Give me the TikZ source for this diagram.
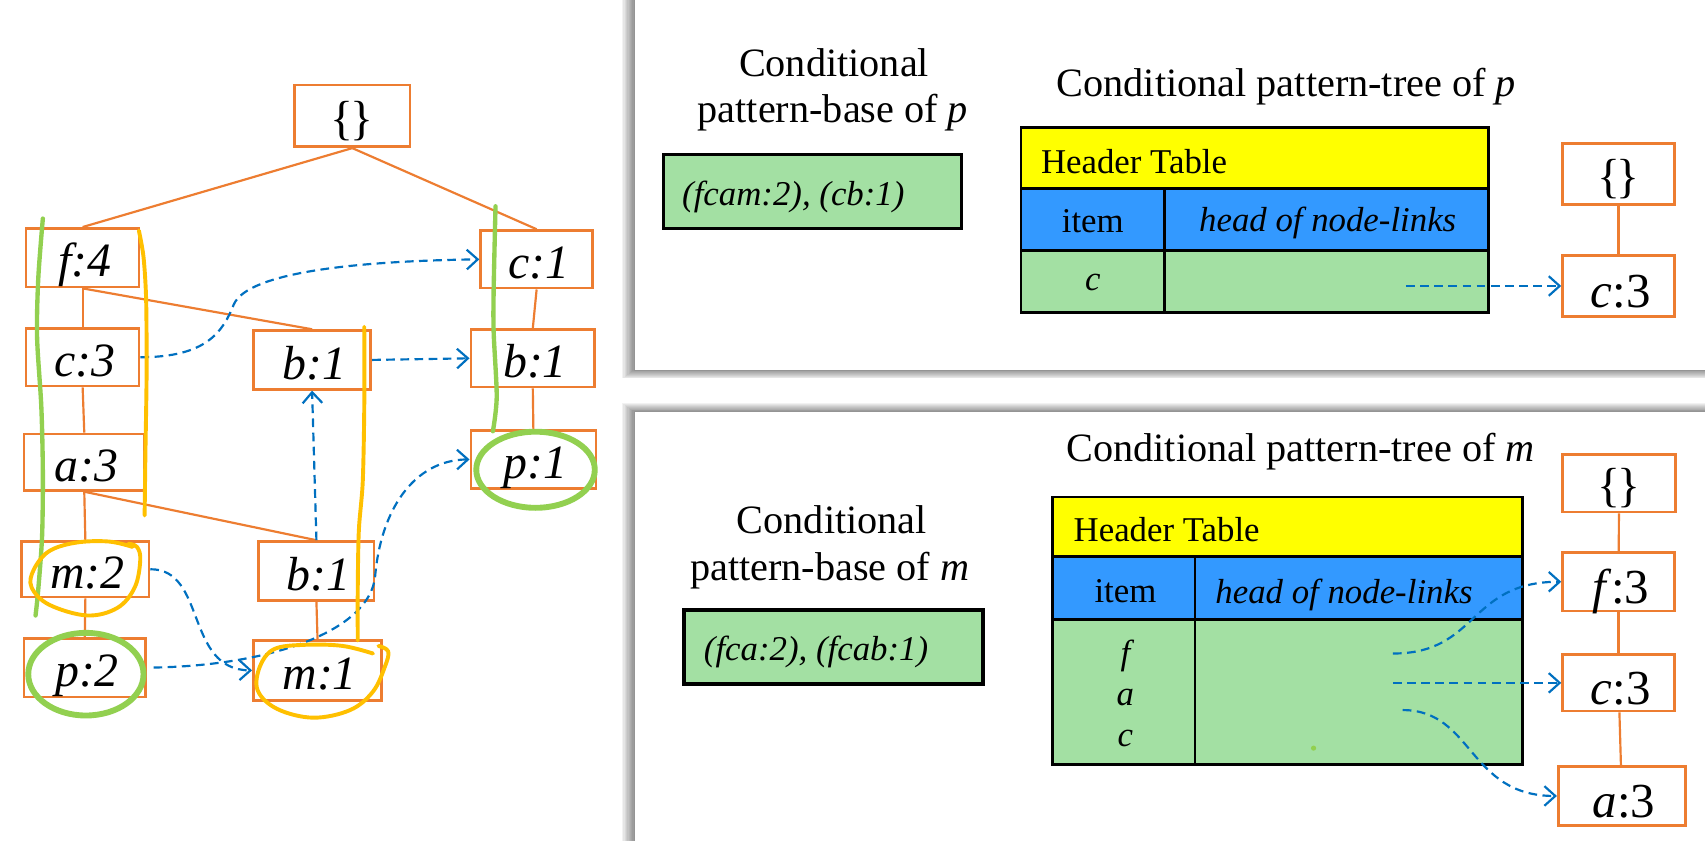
\documentclass[tikz,border=0pt]{standalone}
\usepackage{fontspec}
\setmainfont{Liberation Serif}
\usetikzlibrary{arrows.meta}
\definecolor{torange}{HTML}{ED7D31}
\definecolor{tblue}{HTML}{0070C0}
\definecolor{hgreen}{HTML}{92D050}
\definecolor{hyellow}{HTML}{FFC000}
\definecolor{cyellow}{HTML}{FFFF00}
\definecolor{cblue}{HTML}{3399FF}
\definecolor{cgreen}{HTML}{A3E0A3}
\newcommand\treelbl[1]{\hspace*{2pt}#1}
\newcommand\bracelbl{\{\kern-1.5pt\}}
\begin{document}
\begin{tikzpicture}[x=0.5pt,y=-0.5pt,
  tbox/.style={draw=torange, line width=1.2pt, fill=white, inner sep=0pt,
    text height=17.7pt, text depth=0pt,
    font=\fontsize{22}{22}\selectfont\itshape},
  sbox/.style={draw=torange, line width=1.2pt, fill=white, inner sep=0pt,
    text height=20pt, text depth=0pt, minimum width=51.5pt, minimum height=27.5pt,
    font=\fontsize{22.5}{22.5}\selectfont},
  bracefont/.style={text height=17pt, font=\fontsize{22}{22}\selectfont},
  treeline/.style={draw=torange, line width=1pt},
  nlink/.style={draw=tblue, line width=1pt, dash pattern=on 4pt off 2.5pt,
    -{Straight Barb[length=5pt,width=9pt,line width=1pt]}},
  headtxt/.style={font=\fontsize{18.5}{22}\selectfont, anchor=base, inner sep=0pt},
  ttxt/.style={font=\fontsize{16}{18}\selectfont, inner sep=0pt},
  pbox/.style={draw=black, line width=1.5pt, fill=cgreen, inner sep=0pt},
  tline/.style={draw=black, line width=1.3pt},
  hl/.style={line width=2pt, line cap=round, line join=round},
]
\useasboundingbox (0,0) rectangle (1568,772.5);
\fill[white] (0,0) rectangle (1568,772.5);

% panels with shadows
\foreach \k in {1,...,10}{
  \fill[black, opacity=0.05] (584-1.2*\k,-20) rectangle (1600,340+0.8*\k);
  \fill[black, opacity=0.05] (584-1.2*\k,379-0.8*\k) rectangle (1600,800);
}
\fill[white] (584,-20) rectangle (1600,340);
\fill[white] (584,379) rectangle (1600,800);

% ---------------- left tree ----------------
\node[tbox, bracefont, minimum width=53pt, minimum height=28.5pt] (root) at (324,106.5) {\bracelbl};
\node[tbox, minimum width=52pt, minimum height=27pt] (f4) at (76,237) {\treelbl{f:4}};
\node[tbox, minimum width=51.5pt, minimum height=26.5pt] (c1) at (493.5,238.5) {\treelbl{c:1}};
\node[tbox, minimum width=52pt, minimum height=26.5pt] (c3) at (76,328.5) {\treelbl{c:3}};
\node[tbox, minimum width=54pt, minimum height=27pt] (b1a) at (287,331) {\treelbl{b:1}};
\node[tbox, minimum width=57pt, minimum height=26.5pt] (b1b) at (490,329.5) {\treelbl{b:1}};
\node[tbox, minimum width=55.5pt, minimum height=26pt] (a3) at (77.5,425) {\treelbl{a:3}};
\node[tbox, minimum width=57.5pt, minimum height=26.5pt] (p1) at (490.5,422.5) {\treelbl{p:1}};
\node[tbox, minimum width=58.5pt, minimum height=25.5pt] (m2) at (78.5,523.5) {\treelbl{m:2}};
\node[tbox, minimum width=53pt, minimum height=27pt] (b1c) at (291,525) {\treelbl{b:1}};
\node[tbox, minimum width=56pt, minimum height=27pt] (p2) at (78,614) {\treelbl{p:2}};
\node[tbox, minimum width=59pt, minimum height=27.5pt] (m1) at (292,616.5) {\treelbl{m:1}};

\draw[treeline] (root.south) -- (f4.north);
\draw[treeline] (root.south) -- (c1.north);
\draw[treeline] (f4.south) -- (c3.north);
\draw[treeline] (f4.south) -- (b1a.north);
\draw[treeline] (c3.south) -- (a3.north);
\draw[treeline] (a3.south) -- (m2.north);
\draw[treeline] (a3.south) -- (b1c.north);
\draw[treeline] (m2.south) -- (p2.north);
\draw[treeline] (b1c.south) -- (m1.north);
\draw[treeline] (c1.south) -- (b1b.north);
\draw[treeline] (b1b.south) -- (p1.north);

\draw[nlink] (c3.east) .. controls (190,328.5) and (205,305) .. (215,280) .. controls (228,250) and (330,240) .. (c1.west);
\draw[nlink] (b1a.east) -- (b1b.west);
\draw[nlink] (b1c.north) -- (b1a.south);
\draw[nlink] (m2.east) .. controls (190,523) and (170,616) .. (m1.west);
\draw[nlink, shorten <=3pt] (p2.east) .. controls (250,612) and (340,580) .. (345,530) .. controls (350,470) and (380,423) .. (p1.west);

% highlights
\draw[hl, hgreen] plot[smooth] coordinates {(39.4,201) (35.2,256) (34.1,310) (38,374) (39.4,434) (38.7,493) (35.2,542) (32.7,566)};
\draw[hl, hyellow, line width=1.8pt] plot[smooth] coordinates {(127.7,212) (132,236.5) (134.4,276) (134.8,345) (133.7,419) (133,474)};
\draw[hl, hyellow, line width=1.8pt] plot[smooth] coordinates {(335,300.5) (335,374) (333.6,443) (330,488) (329,542) (329,589)};
\draw[hl, hgreen] plot[smooth] coordinates {(455.7,189.7) (454,266) (454,305.5) (456.8,364.6) (453.3,396.6)};
\draw[hl, hgreen, line width=2.7pt] (492.5,432) ellipse [x radius=54.5, y radius=35];
\draw[hl, hgreen, line width=2.7pt] (79,620) ellipse [x radius=53, y radius=38];
\draw[hl, hyellow, line width=1.8pt] plot[smooth, tension=0.6] coordinates {(122,503) (100,498) (70,499) (45,507) (31,524) (29,540) (45,556) (80,566) (108,559) (124,540) (129,515) (126,503) (118,500)};
\draw[hl, hyellow, line width=1.8pt] plot[smooth, tension=0.6] coordinates {(343,601) (315,594) (280,593) (252,597) (239,613) (237,635) (255,652) (288,660) (322,653) (343,636) (354,613) (357,599) (348,594)};

% ---------------- top panel ----------------
\node[headtxt] (pbt1) at (767,70) {Conditional};
\node[headtxt] (pbt2) at (766,113) {pattern-base of \textit{p}};
\node[pbox, minimum width=137pt, minimum height=34pt] (pbp) at (747,176) {};
\node[ttxt, anchor=west, font=\fontsize{16}{18}\selectfont\itshape] (pbpt) at (627,181) {(fcam:2), (cb:1)};
\node[headtxt] (ptt) at (1183,89) {Conditional pattern-tree of \textit{p}};

\fill[cyellow] (939,117) rectangle (1369,173);
\fill[cblue] (939,173) rectangle (1369,230);
\fill[cgreen] (939,230) rectangle (1369,287);
\draw[tline] (939,117) rectangle (1369,287);
\draw[tline] (939,173) -- (1369,173);
\draw[tline] (939,230) -- (1369,230);
\draw[tline] (1071,173) -- (1071,287);
\node[ttxt, anchor=west] (pht) at (957,149) {Header Table};
\node[ttxt] (pitem) at (1005,203) {item};
\node[ttxt, font=\fontsize{16}{18}\selectfont\itshape] (phead) at (1221,205) {head of node-links};
\node[ttxt, font=\fontsize{16}{18}\selectfont\itshape] (pci) at (1005,260) {c};

\node[sbox, bracefont, minimum height=28pt] (pr) at (1488.5,160) {\bracelbl};
\node[sbox, minimum height=28pt] (pc3) at (1488.5,263) {\treelbl{\textit{c}:3}};
\draw[treeline] (pr) -- (pc3);
\coordinate (pcs) at (1293,263);
\draw[nlink] (pcs) -- (pc3.west);

% ---------------- bottom panel ----------------
\node[headtxt] (mtt) at (1196,424.5) {Conditional pattern-tree of \textit{m}};
\node[headtxt] (mbt1) at (765,490.5) {Conditional};
\node[headtxt] (mbt2) at (763,533.5) {pattern-base of \textit{m}};
\node[pbox, minimum width=137.5pt, minimum height=34pt] (pbm) at (766.5,595) {};
\node[ttxt, anchor=west, font=\fontsize{16}{18}\selectfont\itshape] (pbmt) at (647,600) {(fca:2), (fcab:1)};

\fill[cyellow] (968,457) rectangle (1400,512);
\fill[cblue] (968,512) rectangle (1400,570);
\fill[cgreen] (968,570) rectangle (1400,703);
\draw[tline] (968,457) rectangle (1400,703);
\draw[tline] (968,512) -- (1400,512);
\draw[tline] (968,570) -- (1400,570);
\draw[tline] (1099,512) -- (1099,703);
\node[ttxt, anchor=west] (mht) at (987,487) {Header Table};
\node[ttxt] (mitem) at (1035,544) {item};
\node[ttxt, font=\fontsize{16}{18}\selectfont\itshape] (mhead) at (1236,547) {head of node-links};
\node[ttxt, font=\fontsize{16}{18}\selectfont\itshape] (mfi) at (1035,603) {f};
\node[ttxt, font=\fontsize{16}{18}\selectfont\itshape] (mai) at (1035,641) {a};
\node[ttxt, font=\fontsize{16}{18}\selectfont\itshape] (mci) at (1035,679) {c};
\fill[hgreen] (1208,688) circle (1.2pt);

\node[sbox, bracefont, minimum width=52pt, minimum height=26.5pt] (mr) at (1489,444.5) {\bracelbl};
\node[sbox, minimum height=27pt] (mf3) at (1488.5,535) {\treelbl{\textit{f}:3}};
\node[sbox, minimum height=26pt] (mc3) at (1488.5,628) {\treelbl{\textit{c}:3}};
\node[sbox, minimum width=58.5pt, minimum height=27pt] (ma3) at (1491.5,732) {\treelbl{\textit{a}:3}};
\draw[treeline] (mr) -- (mf3);
\draw[treeline] (mf3) -- (mc3);
\draw[treeline] (mc3) -- (ma3);

\coordinate (mfs) at (1281,601);
\coordinate (mcs) at (1281,628);
\coordinate (mas) at (1290,653);
\draw[nlink] (mfs) .. controls (1360,601) and (1350,535) .. (mf3.west);
\draw[nlink] (mcs) -- (mc3.west);
\draw[nlink] (mas) .. controls (1355,653) and (1350,732) .. (ma3.west);
\end{tikzpicture}
\end{document}
